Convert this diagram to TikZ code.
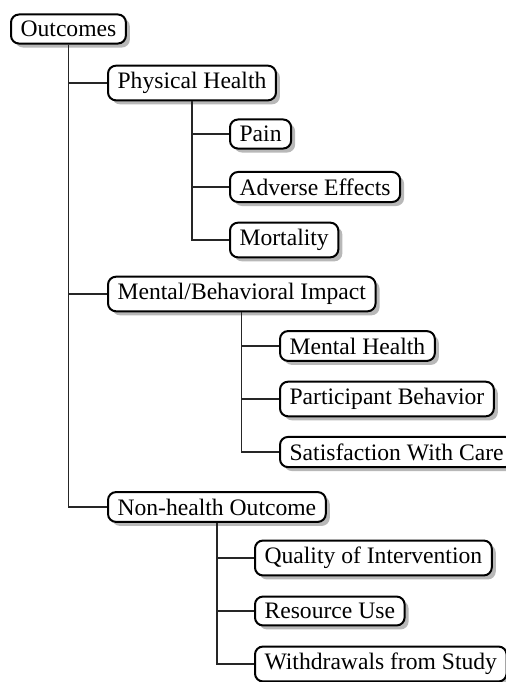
\documentclass[tikz,border=0pt]{standalone}
\usepackage{fontspec}
\setmainfont{Liberation Serif}
\usetikzlibrary{shadows}

\begin{document}
\begin{tikzpicture}[x=0.5pt,y=-0.5pt,
    item/.style={rectangle,rounded corners=4pt,draw=black,line width=1pt,fill=white,
        inner xsep=4.8pt,inner ysep=3.3pt,anchor=west,font=\fontsize{11.8}{14}\selectfont,
        drop shadow={shadow xshift=2pt,shadow yshift=-2pt,fill=black!28,opacity=1}},
    link/.style={draw=black!85,line width=0.7pt}
]
 \useasboundingbox (0,0) rectangle (505,682);

 \node[item] (outcomes) at (10,29) {Outcomes};

 \node[item] (physical health) at (107,83) {Physical Health};
 \node[item] (pain) at (229,134) {Pain};
 \node[item] (adverse effects) at (229,187) {Adverse Effects};
 \node[item] (mortality) at (229,240) {Mortality};

 \node[item] (mental impact) at (107,294) {Mental/Behavioral Impact};
 \node[item] (mental health) at (279,346) {Mental Health};
 \node[item] (participant behavior) at (279,399) {Participant Behavior};
 \node[item] (satisfaction) at (279,452) {Satisfaction With Care};

 \node[item] (nonhealth) at (107,507) {Non-health Outcome};
 \node[item] (quality) at (254,558) {Quality of Intervention};
 \node[item] (resource use) at (254,611) {Resource Use};
 \node[item] (withdrawals) at (254,664) {Withdrawals from Study};

 \draw[link] (outcomes.south) |- (physical health.west);
 \draw[link] (outcomes.south) |- (mental impact.west);
 \draw[link] (outcomes.south) |- (nonhealth.west);

 \draw[link] (physical health.south) |- (pain.west);
 \draw[link] (physical health.south) |- (adverse effects.west);
 \draw[link] (physical health.south) |- (mortality.west);

 \draw[link] (mental impact.south) |- (mental health.west);
 \draw[link] (mental impact.south) |- (participant behavior.west);
 \draw[link] (mental impact.south) |- (satisfaction.west);

 \draw[link] (nonhealth.south) |- (quality.west);
 \draw[link] (nonhealth.south) |- (resource use.west);
 \draw[link] (nonhealth.south) |- (withdrawals.west);
\end{tikzpicture}
\end{document}
